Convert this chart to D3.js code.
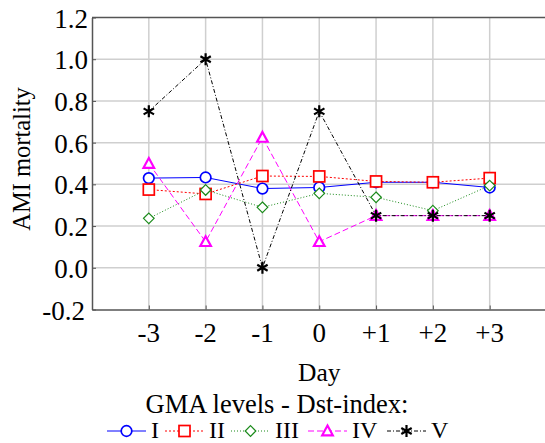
<!DOCTYPE html>
<html>
<head>
<meta charset="utf-8">
<script src="https://cdn.jsdelivr.net/npm/d3@7"></script>
<style>
  body { margin: 0; background: #fff; }
  svg text { font-family: "Liberation Serif", "DejaVu Serif", serif; fill: #000; }
</style>
</head>
<body>
<div id="chart"></div>
<script>
// chart data
const days = [-3, -2, -1, 0, 1, 2, 3];
const dayLabels = ["-3", "-2", "-1", "0", "+1", "+2", "+3"];
const yTicks = [-0.2, 0.0, 0.2, 0.4, 0.6, 0.8, 1.0, 1.2];
const yTickLabels = ["-0.2", "0.0", "0.2", "0.4", "0.6", "0.8", "1.0", "1.2"];
const seriesNames = ["I", "II", "III", "IV", "V"];
const levelI = [0.43, 0.433, 0.38, 0.385, 0.41, 0.41, 0.385];
const levelII = [0.375, 0.354, 0.44, 0.438, 0.414, 0.41, 0.43];
const levelIII = [0.237, 0.373, 0.29, 0.357, 0.338, 0.274, 0.394];
const levelIV = [0.5, 0.125, 0.625, 0.125, 0.25, 0.25, 0.25];
const levelV = [0.75, 1.0, 0.0, 0.75, 0.25, 0.25, 0.25];

// set the dimensions and margins of the graph
const W = 545, H = 443;
const margin = { top: 17.5, right: -1.5, bottom: 133.5, left: 92 };

const svg = d3.select("#chart")
    .append("svg")
    .attr("width", W)
    .attr("height", H);

const x = d3.scaleLinear()
    .domain([-4, 4])
    .range([margin.left, W - margin.right]);

const y = d3.scaleLinear()
    .domain([-0.2, 1.2])
    .range([H - margin.bottom, margin.top]);

// grid
svg.append("g")
    .selectAll("line")
    .data(yTicks.slice(1, -1))
    .join("line")
    .attr("x1", margin.left).attr("x2", W)
    .attr("y1", d => y(d)).attr("y2", d => y(d))
    .attr("stroke", "#cfcfcf")
    .attr("stroke-width", 1.5);
svg.append("g")
    .selectAll("line")
    .data(days)
    .join("line")
    .attr("x1", d => x(d)).attr("x2", d => x(d))
    .attr("y1", y(1.2)).attr("y2", y(-0.2))
    .attr("stroke", "#cfcfcf")
    .attr("stroke-width", 1.5);

// Y axis (ticks point inward, labels drawn separately)
const yAxis = svg.append("g")
    .attr("transform", `translate(${margin.left},0)`)
    .call(d3.axisLeft(y).tickValues(yTicks).tickFormat("").tickSizeInner(-4).tickSizeOuter(0));
yAxis.select(".domain").attr("stroke", "#555").attr("stroke-width", 1.5);
yAxis.selectAll(".tick line").attr("stroke", "#555");

svg.append("g")
    .selectAll("text")
    .data(yTicks)
    .join("text")
    .attr("x", d => margin.left - (d < 0 ? 7 : 4))
    .attr("y", d => y(d) + 10)
    .attr("text-anchor", "end")
    .attr("font-size", 27)
    .text((d, i) => yTickLabels[i]);

// X axis
const xAxis = svg.append("g")
    .attr("transform", `translate(0,${y(-0.2)})`)
    .call(d3.axisBottom(x).tickValues(days).tickFormat("").tickSizeInner(-4).tickSizeOuter(0));
xAxis.select(".domain").attr("stroke", "#555").attr("stroke-width", 1.5);
xAxis.selectAll(".tick line").attr("stroke", "#555");

svg.append("g")
    .selectAll("text")
    .data(days)
    .join("text")
    .attr("x", d => x(d))
    .attr("y", y(-0.2) + 32)
    .attr("text-anchor", "middle")
    .attr("font-size", 27)
    .text((d, i) => dayLabels[i]);

// top border
svg.append("line")
    .attr("x1", margin.left).attr("x2", W)
    .attr("y1", y(1.2)).attr("y2", y(1.2))
    .attr("stroke", "#555").attr("stroke-width", 1.5);

// axis titles
svg.append("text")
    .attr("transform", `translate(30,159) rotate(-90)`)
    .attr("text-anchor", "middle")
    .attr("font-size", 24.5)
    .text("AMI mortality");

svg.append("text")
    .attr("x", (x(-4) + x(4)) / 2).attr("y", 381)
    .attr("text-anchor", "middle")
    .attr("font-size", 25.5)
    .text("Day");

svg.append("text")
    .attr("x", 277).attr("y", 413)
    .attr("text-anchor", "middle")
    .attr("font-size", 26.5)
    .text("GMA levels - Dst-index:");

// series
const series = [
  { name: seriesNames[0], values: levelI, color: "#0000ff", dash: null, marker: "circle" },
  { name: seriesNames[1], values: levelII, color: "#ff0000", dash: "2,2", marker: "square" },
  { name: seriesNames[2], values: levelIII, color: "#1a8a1a", dash: "1,2", marker: "diamond" },
  { name: seriesNames[3], values: levelIV, color: "#ff00ff", dash: "6,3", marker: "triangle" },
  { name: seriesNames[4], values: levelV, color: "#000000", dash: "4,2,1,2", marker: "asterisk" }
];

const line = d3.line()
    .x((d, i) => x(days[i]))
    .y(d => y(d));

function drawMarker(g, kind, color) {
  if (kind === "circle") {
    g.append("circle").attr("r", 5.3).attr("fill", "#fff").attr("stroke", color).attr("stroke-width", 1.7);
  } else if (kind === "square") {
    g.append("rect").attr("x", -5.5).attr("y", -5.5).attr("width", 11).attr("height", 11)
      .attr("fill", "#fff").attr("stroke", color).attr("stroke-width", 1.7);
  } else if (kind === "diamond") {
    g.append("path").attr("d", "M0,-5.3L5.3,0L0,5.3L-5.3,0Z")
      .attr("fill", "#fff").attr("stroke", color).attr("stroke-width", 1.2);
  } else if (kind === "triangle") {
    g.append("path").attr("d", "M0,-5.5L5.3,4.3L-5.3,4.3Z")
      .attr("fill", "#fff").attr("stroke", color).attr("stroke-width", 2.2);
  } else {
    g.append("path").attr("d", "M0,-6V6M-5.2,-3L5.2,3M-5.2,3L5.2,-3")
      .attr("fill", "none").attr("stroke", color).attr("stroke-width", 2.2);
  }
}

series.forEach(s => {
  svg.append("path")
    .datum(s.values)
    .attr("d", line)
    .attr("fill", "none")
    .attr("stroke", s.color)
    .attr("stroke-width", 1)
    .attr("stroke-dasharray", s.dash);
  s.values.forEach((v, i) => {
    const g = svg.append("g").attr("transform", `translate(${x(days[i])},${y(v)})`);
    drawMarker(g, s.marker, s.color);
  });
});

// legend
const legendX = [107, 165, 231, 308, 387];
const legend = svg.append("g");
series.forEach((s, i) => {
  const x0 = legendX[i];
  legend.append("line")
    .attr("x1", x0).attr("x2", x0 + 39)
    .attr("y1", 431).attr("y2", 431)
    .attr("stroke", s.color).attr("stroke-width", 1)
    .attr("stroke-dasharray", s.dash);
  const g = legend.append("g").attr("transform", `translate(${x0 + 19.5},431)`);
  drawMarker(g, s.marker, s.color);
  legend.append("text")
    .attr("x", x0 + 44).attr("y", 437.5)
    .attr("font-size", 24)
    .text(s.name);
});
</script>
</body>
</html>
